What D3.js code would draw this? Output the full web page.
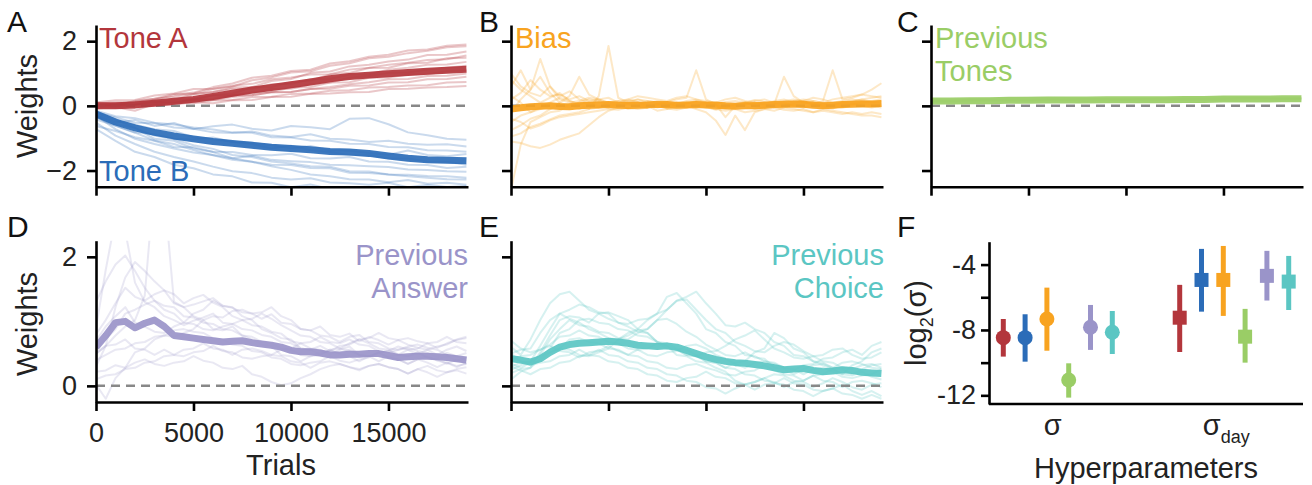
<!DOCTYPE html>
<html><head><meta charset="utf-8">
<script src="https://cdn.jsdelivr.net/npm/d3@7"></script>
<style>body{margin:0;background:#fff} text{font-family:"Liberation Sans",Arial,sans-serif}</style>
</head><body><svg id="c" width="1312" height="485"></svg>
<script>
// ---------------- DATA ----------------
const trialsCoarse = [0,1000,2000,3000,4000,5000,6000,7000,8000,9000,10000,11000,12000,13000,14000,15000,16000,17000,18000,19000];
const trialsFine = [0,500,1000,1500,2000,2500,3000,3500,4000,4500,5000,5500,6000,6500,7000,7500,8000,8500,9000,9500,10000,10500,11000,11500,12000,12500,13000,13500,14000,14500,15000,15500,16000,16500,17000,17500,18000,18500,19000];
const xTickValues = [0,5000,10000,15000];
const yTicksTop = [-2,0,2];
const yTicksBottom = [0,2];

const toneAMean = [0.0,0.0,0.03,0.08,0.14,0.2,0.29,0.39,0.49,0.57,0.65,0.74,0.84,0.91,0.95,0.99,1.03,1.07,1.1,1.13];
const toneASubjects = [
[0.02,0.06,0.12,0.19,0.33,0.41,0.58,0.69,0.87,0.93,1.08,1.12,1.31,1.38,1.52,1.58,1.71,1.74,1.86,1.9],
[0.05,0.0,0.16,0.22,0.37,0.38,0.52,0.6,0.79,0.88,1.03,1.07,1.24,1.32,1.47,1.52,1.63,1.7,1.81,1.84],
[-0.04,0.03,0.04,0.17,0.18,0.36,0.43,0.57,0.58,0.77,0.83,1.02,1.06,1.22,1.27,1.37,1.43,1.57,1.58,1.68],
[0.0,-0.06,0.02,0.08,0.17,0.19,0.33,0.38,0.57,0.58,0.73,0.78,0.97,1.02,1.17,1.18,1.32,1.33,1.47,1.49],
[0.06,0.11,0.13,0.22,0.28,0.37,0.43,0.52,0.53,0.67,0.68,0.82,0.83,0.97,0.98,1.12,1.18,1.27,1.28,1.36],
[0.0,0.02,0.04,0.12,0.09,0.22,0.23,0.32,0.38,0.52,0.53,0.67,0.72,0.87,0.92,1.02,1.03,1.12,1.18,1.24],
[0.1,0.04,0.12,0.13,0.22,0.23,0.32,0.33,0.42,0.43,0.57,0.58,0.72,0.73,0.87,0.88,0.97,0.98,1.07,1.09],
[-0.08,-0.04,-0.15,0.06,0.08,0.17,0.18,0.27,0.33,0.42,0.43,0.52,0.58,0.67,0.73,0.82,0.83,0.92,0.93,1.0],
[0.0,0.07,0.04,0.12,0.13,0.17,0.18,0.32,0.33,0.42,0.43,0.52,0.53,0.62,0.63,0.72,0.73,0.82,0.83,0.9],
[0.04,0.0,0.06,0.03,0.12,0.08,0.17,0.18,0.27,0.28,0.37,0.38,0.47,0.48,0.57,0.58,0.63,0.64,0.72,0.74],
[-0.05,0.02,-0.06,0.02,0.03,0.12,0.08,0.17,0.18,0.27,0.28,0.37,0.38,0.42,0.43,0.52,0.53,0.57,0.58,0.61],
[0.1,0.17,0.18,0.32,0.38,0.52,0.53,0.62,0.68,0.82,0.88,0.97,0.98,1.12,1.18,1.27,1.33,1.42,1.44,1.56]
];

const toneBMean = [-0.25,-0.5,-0.68,-0.82,-0.93,-1.02,-1.1,-1.16,-1.22,-1.28,-1.32,-1.36,-1.41,-1.43,-1.47,-1.55,-1.62,-1.67,-1.68,-1.7];
const toneBSubjects = [
[-0.3,-0.52,-0.44,-0.62,-0.53,-0.72,-0.63,-0.58,-0.71,-0.76,-0.62,-0.66,-0.72,-0.4,-0.38,-0.57,-0.82,-0.91,-1.02,-1.05],
[-0.2,-0.36,-0.52,-0.54,-0.67,-0.71,-0.82,-0.84,-0.79,-0.92,-0.96,-0.88,-1.02,-1.04,-1.12,-1.08,-1.17,-1.2,-1.19,-1.26],
[-0.42,-0.61,-0.82,-0.88,-1.02,-1.04,-0.98,-1.12,-1.14,-1.22,-1.31,-1.24,-1.37,-1.39,-1.46,-1.51,-1.38,-1.52,-1.56,-1.49],
[-0.3,-0.72,-1.02,-1.18,-1.32,-1.44,-1.52,-1.62,-1.54,-1.67,-1.71,-1.74,-1.82,-1.84,-1.87,-1.89,-1.97,-1.98,-2.02,-2.04],
[-0.52,-0.92,-1.18,-1.42,-1.58,-1.72,-1.88,-2.02,-2.08,-2.22,-2.28,-2.24,-2.37,-2.39,-2.44,-2.38,-2.52,-2.44,-2.51,-2.48],
[-0.2,-0.42,-0.68,-1.02,-1.08,-1.32,-1.43,-1.62,-1.73,-1.87,-1.98,-2.12,-2.18,-2.27,-2.28,-2.36,-2.29,-2.41,-2.38,-2.44],
[-0.62,-0.78,-0.97,-1.08,-1.27,-1.28,-1.42,-1.43,-1.52,-1.53,-1.48,-1.62,-1.63,-1.58,-1.72,-1.73,-1.82,-1.83,-1.92,-1.88],
[-0.25,-0.47,-0.58,-0.72,-0.78,-0.97,-1.03,-1.12,-1.18,-1.32,-1.23,-1.37,-1.43,-1.52,-1.53,-1.62,-1.63,-1.72,-1.73,-1.82],
[-0.3,-0.57,-0.68,-0.92,-1.03,-1.22,-1.33,-1.52,-1.58,-1.72,-1.78,-1.87,-1.88,-2.02,-2.03,-2.12,-2.18,-2.22,-2.27,-2.28],
[-0.15,-0.32,-0.38,-0.52,-0.58,-0.67,-0.73,-0.82,-0.83,-0.97,-0.98,-1.07,-1.08,-1.17,-1.18,-1.27,-1.28,-1.37,-1.38,-1.42],
[-0.72,-1.08,-1.42,-1.58,-1.82,-1.93,-2.12,-2.18,-2.37,-2.38,-2.52,-2.43,-2.57,-2.58,-2.62,-2.53,-2.62,-2.63,-2.58,-2.62],
[-0.35,-0.62,-0.83,-1.07,-1.18,-1.37,-1.53,-1.67,-1.73,-1.82,-1.83,-1.92,-1.93,-2.07,-2.08,-2.12,-2.13,-2.17,-2.18,-2.22]
];

const biasMean = [-0.1,-0.06,-0.03,-0.01,0.0,-0.02,-0.03,0.0,0.02,0.03,0.04,0.02,0.01,0.02,0.03,0.05,0.04,0.02,0.03,0.04,0.03,0.02,0.0,-0.01,0.0,0.0,0.02,0.04,0.05,0.06,0.05,0.02,0.0,0.02,0.04,0.05,0.06,0.06,0.07];
const biasSubjects = [
[-2.6,-1.2,-0.5,-0.35,-0.2,-0.15,0.05,-0.1,0.08,0.12,0.0,-0.05,0.06,0.12,-0.02,0.05,-0.08,0.02,0.1,0.04,-0.02,-0.12,0.02,0.06,0.12,-0.03,-0.06,0.04,0.1,0.0,0.06,0.12,-0.02,-0.08,0.02,0.05,0.1,0.04,0.0],
[-1.1,-1.15,-1.25,-1.3,-1.2,-1.05,-0.95,-0.85,-0.6,-0.35,-0.15,-0.05,0.05,-0.02,0.1,0.05,-0.05,0.02,0.08,0.1,0.0,-0.1,-0.05,0.02,0.08,0.04,-0.02,0.06,0.1,0.02,-0.04,0.04,0.08,0.0,-0.06,0.02,0.06,0.0,-0.05],
[-0.95,-0.85,-0.65,-0.55,-0.42,-0.3,-0.25,-0.2,-0.1,0.3,1.85,0.25,0.1,0.05,0.15,0.12,0.05,0.0,0.08,0.14,0.05,0.02,-0.05,0.05,0.1,0.18,0.12,0.05,0.0,0.06,0.1,0.15,0.08,0.02,0.1,0.15,0.2,0.12,0.1],
[0.6,1.1,0.5,1.45,0.6,0.3,0.45,0.2,0.1,0.15,0.05,0.1,0.2,0.12,0.05,-0.05,0.02,0.1,0.05,0.0,0.08,0.12,0.05,-0.02,0.03,0.1,0.05,-0.05,0.0,0.1,0.15,0.05,-0.05,0.02,0.08,0.12,0.2,0.25,0.3],
[0.2,0.4,0.8,0.5,0.3,0.35,0.2,0.3,0.15,0.2,0.25,0.1,0.15,0.2,0.1,0.05,0.12,0.2,0.25,1.1,0.2,0.05,0.12,0.15,0.1,0.05,0.12,0.08,0.15,0.2,0.12,0.05,0.15,1.1,0.2,0.25,0.35,0.5,0.7],
[-0.75,-0.6,-0.4,-0.3,-0.1,0.1,0.3,0.9,0.35,0.2,0.1,0.05,0.15,0.1,0.0,0.05,0.1,0.0,-0.05,0.05,0.1,0.0,-0.1,-0.05,0.05,0.1,0.0,0.05,0.9,0.3,0.1,0.05,0.0,0.05,0.1,0.05,0.15,0.1,0.05],
[0.3,0.1,-0.2,-0.1,0.0,0.05,-0.05,0.1,0.05,-0.05,0.0,0.05,-0.1,-0.05,0.0,-0.15,-0.1,-0.05,0.0,-0.1,-0.2,-0.45,-0.9,-0.3,-0.75,-0.2,-0.1,-0.15,-0.05,-0.1,-0.15,-0.2,-0.1,-0.15,-0.2,-0.25,-0.3,-0.3,-0.35],
[0.8,0.5,0.3,0.1,0.25,0.4,0.15,0.05,-0.1,-0.05,0.1,0.15,0.05,0.0,-0.05,0.05,0.1,0.05,0.15,0.2,0.1,0.05,-0.05,0.0,0.1,0.15,0.2,0.1,0.05,0.15,0.2,0.15,0.1,0.2,0.25,0.3,0.35,0.3,0.25],
[-0.4,-0.5,-0.7,-0.6,-0.45,-0.35,-0.3,-0.25,-0.2,-0.15,-0.1,-0.12,-0.05,-0.1,-0.05,0.0,-0.08,-0.12,-0.05,0.0,-0.05,-0.1,-0.15,-0.1,-0.2,-0.15,-0.1,-0.05,-0.12,-0.15,-0.1,-0.2,-0.15,-0.2,-0.25,-0.2,-0.25,-0.2,-0.25],
[1.0,0.6,0.4,0.3,0.6,0.2,0.1,0.15,0.25,0.2,0.1,0.15,0.2,0.3,0.25,0.2,0.15,0.25,0.3,0.2,0.15,0.1,0.2,0.25,0.15,0.1,0.05,0.15,0.2,0.1,0.15,0.25,0.2,0.1,0.15,0.2,0.15,0.1,0.15],
[-0.2,0.2,0.5,0.9,0.4,0.1,0.0,0.1,0.2,0.15,0.05,0.0,0.1,0.05,-0.05,0.0,0.05,0.1,0.0,-0.05,0.05,0.0,-0.05,0.05,0.0,-0.1,-0.05,0.0,0.05,0.0,-0.05,0.0,0.05,0.0,0.05,0.1,0.0,-0.05,0.0],
[-0.5,-0.3,-0.2,-0.05,0.1,0.25,0.15,0.05,0.1,0.0,-0.05,0.05,0.1,0.2,0.15,0.1,0.05,0.0,0.05,0.15,0.1,0.05,-0.35,0.0,0.05,0.1,0.05,0.0,-0.05,0.05,0.1,0.05,0.0,-0.05,0.0,0.05,0.1,0.15,0.2]
];

const prevTonesMean = [0.15,0.15,0.16,0.16,0.17,0.17,0.18,0.18,0.18,0.19,0.19,0.19,0.19,0.2,0.2,0.21,0.21,0.21,0.22,0.22];
const prevTonesSubjects = [
[0.18,0.19,0.21,0.23,0.24,0.25,0.25,0.24,0.23,0.22,0.23,0.23,0.24,0.25,0.26,0.27,0.26,0.25,0.25,0.24],
[0.12,0.12,0.13,0.14,0.14,0.15,0.16,0.16,0.15,0.16,0.17,0.16,0.17,0.18,0.17,0.18,0.19,0.19,0.2,0.2],
[0.14,0.15,0.17,0.18,0.19,0.2,0.21,0.2,0.2,0.19,0.2,0.21,0.22,0.22,0.21,0.22,0.23,0.22,0.21,0.22],
[0.16,0.16,0.17,0.17,0.18,0.18,0.19,0.2,0.21,0.21,0.2,0.2,0.2,0.21,0.22,0.23,0.24,0.24,0.23,0.23]
];

const prevAnswerMean = [0.6,0.78,0.98,1.0,0.9,0.97,1.02,0.92,0.78,0.76,0.74,0.72,0.7,0.68,0.69,0.7,0.67,0.65,0.63,0.6,0.55,0.53,0.53,0.51,0.48,0.48,0.49,0.49,0.5,0.5,0.47,0.44,0.45,0.46,0.46,0.45,0.44,0.42,0.4];
const prevAnswerSubjects = [
[0.9,1.8,2.6,2.4,1.6,1.3,1.22,1.08,1.02,0.94,1.01,1.06,1.12,0.98,0.96,0.88,0.86,0.79,0.76,0.68,0.66,0.58,0.56,0.62,0.54,0.51,0.56,0.48,0.46,0.52,0.54,0.49,0.46,0.51,0.44,0.41,0.46,0.39,0.44],
[0.5,0.62,0.78,0.92,1.02,1.4,3.2,3.0,1.3,1.22,1.26,1.31,1.36,1.24,1.21,1.14,1.12,1.04,1.11,0.98,0.96,0.88,0.86,0.92,0.79,0.76,0.81,0.69,0.76,0.71,0.64,0.71,0.74,0.69,0.66,0.59,0.66,0.71,0.74],
[0.3,0.62,1.22,1.68,1.92,1.78,1.62,1.48,1.42,1.28,1.36,1.41,1.29,1.22,1.08,1.02,0.94,0.92,0.84,0.81,0.69,0.66,0.58,0.56,0.49,0.56,0.61,0.48,0.46,0.51,0.44,0.41,0.34,0.41,0.36,0.29,0.36,0.31,0.34],
[0.02,-0.2,0.12,0.28,0.52,0.58,0.72,0.78,0.76,0.82,0.88,1.02,1.08,1.06,1.16,1.18,1.12,1.14,1.22,1.08,1.02,0.88,0.86,0.78,0.76,0.68,0.76,0.79,0.68,0.66,0.58,0.56,0.61,0.64,0.59,0.56,0.48,0.46,0.51],
[0.8,1.02,1.28,1.52,1.38,1.32,1.42,1.48,1.28,1.22,1.08,1.02,0.88,0.86,0.92,0.78,0.72,0.64,0.62,0.48,0.46,0.38,0.46,0.48,0.56,0.49,0.46,0.38,0.46,0.51,0.54,0.61,0.56,0.49,0.56,0.61,0.64,0.72,0.76],
[0.22,0.24,0.32,0.28,0.36,0.41,0.34,0.31,0.36,0.38,0.46,0.39,0.36,0.28,0.26,0.31,0.18,0.14,0.06,0.01,0.04,0.12,0.18,0.26,0.31,0.34,0.29,0.26,0.31,0.34,0.29,0.26,0.19,0.26,0.31,0.24,0.21,0.26,0.29],
[0.6,0.72,0.88,1.12,1.18,1.26,1.32,1.18,1.12,0.98,0.96,0.88,0.86,0.92,0.96,1.02,1.04,1.12,1.04,0.94,0.86,0.78,0.76,0.68,0.66,0.58,0.66,0.72,0.74,0.82,0.74,0.71,0.64,0.59,0.56,0.48,0.56,0.61,0.54],
[0.4,0.48,0.56,0.58,0.66,0.68,0.76,0.78,0.86,0.88,0.84,0.82,0.74,0.72,0.64,0.62,0.54,0.52,0.44,0.42,0.34,0.32,0.36,0.38,0.46,0.39,0.36,0.41,0.44,0.52,0.44,0.41,0.34,0.41,0.46,0.39,0.36,0.29,0.36],
[1.3,1.62,1.88,2.02,1.78,1.52,1.32,1.24,1.22,1.08,1.06,0.98,0.96,0.88,0.86,0.78,0.76,0.68,0.66,0.58,0.56,0.48,0.46,0.52,0.54,0.62,0.64,0.72,0.66,0.58,0.56,0.48,0.46,0.52,0.44,0.41,0.34,0.41,0.34],
[0.5,0.62,0.64,0.72,0.58,0.56,0.48,0.56,0.48,0.46,0.52,0.54,0.62,0.54,0.52,0.44,0.42,0.46,0.48,0.56,0.58,0.66,0.68,0.76,0.68,0.66,0.72,0.64,0.62,0.54,0.51,0.56,0.59,0.54,0.51,0.44,0.51,0.46,0.39],
[0.1,0.16,0.18,0.26,0.28,0.36,0.38,0.46,0.48,0.56,0.58,0.66,0.58,0.56,0.48,0.56,0.58,0.54,0.48,0.46,0.38,0.36,0.28,0.36,0.38,0.34,0.29,0.24,0.31,0.34,0.29,0.26,0.19,0.26,0.21,0.14,0.21,0.24,0.19],
[0.7,0.92,1.08,1.22,0.98,0.92,0.84,0.82,0.92,0.98,1.12,1.18,1.32,1.24,1.22,1.08,1.02,0.88,0.82,0.74,0.72,0.58,0.56,0.48,0.56,0.58,0.54,0.48,0.46,0.38,0.46,0.48,0.56,0.58,0.66,0.68,0.76,0.68,0.66]
];

const prevChoiceMean = [0.42,0.4,0.37,0.42,0.52,0.6,0.64,0.66,0.67,0.68,0.69,0.68,0.66,0.63,0.62,0.61,0.62,0.6,0.55,0.5,0.45,0.41,0.38,0.36,0.35,0.33,0.31,0.28,0.25,0.26,0.27,0.24,0.22,0.23,0.25,0.24,0.21,0.2,0.19];
const prevChoiceSubjects = [
[0.6,0.48,0.72,1.02,1.28,1.42,1.46,1.32,1.18,1.12,1.04,0.98,0.92,0.84,0.82,0.68,0.62,0.48,0.46,0.38,0.36,0.28,0.22,0.08,0.02,0.06,0.12,0.18,0.16,0.08,0.06,-0.02,0.04,0.12,0.06,-0.02,-0.06,0.02,0.04],
[0.3,0.36,0.38,0.62,0.88,1.12,1.18,1.26,1.22,1.14,1.12,0.98,0.96,1.02,1.04,1.12,1.38,1.44,1.28,1.12,0.88,0.82,0.68,0.62,0.48,0.46,0.38,0.36,0.28,0.26,0.18,0.26,0.28,0.22,0.14,0.12,0.16,0.18,0.26],
[0.5,0.38,0.36,0.38,0.52,0.58,0.56,0.48,0.46,0.52,0.58,0.72,0.78,0.86,0.88,1.02,1.18,1.32,1.38,1.46,1.28,1.12,0.94,0.92,0.98,0.88,0.82,0.68,0.62,0.48,0.46,0.38,0.36,0.28,0.36,0.38,0.34,0.28,0.26],
[0.2,0.26,0.28,0.52,0.78,1.02,1.08,1.06,0.98,1.12,1.14,1.08,1.02,0.88,0.82,0.68,0.62,0.56,0.48,0.46,0.38,0.36,0.28,0.36,0.38,0.52,0.58,0.82,0.74,0.58,0.52,0.38,0.32,0.26,0.18,0.32,0.38,0.52,0.58],
[0.45,0.38,0.32,0.36,0.38,0.46,0.48,0.56,0.48,0.46,0.38,0.36,0.28,0.26,0.18,0.16,0.08,0.06,0.12,0.14,0.22,0.14,0.12,0.04,0.02,-0.06,0.02,0.04,0.12,0.04,0.02,-0.06,-0.08,-0.04,0.02,-0.08,-0.14,-0.08,-0.16],
[0.35,0.28,0.36,0.48,0.72,0.88,1.02,0.94,0.92,0.84,0.82,0.74,0.72,0.82,0.88,1.02,1.04,0.96,0.84,0.76,0.64,0.56,0.48,0.46,0.52,0.44,0.42,0.28,0.26,0.18,0.26,0.32,0.34,0.28,0.26,0.18,0.26,0.32,0.34],
[0.4,0.46,0.48,0.56,0.62,0.54,0.52,0.44,0.52,0.54,0.62,0.54,0.48,0.56,0.58,0.66,0.58,0.56,0.48,0.46,0.52,0.54,0.62,0.72,0.78,0.86,0.72,0.58,0.52,0.44,0.42,0.46,0.48,0.56,0.58,0.48,0.42,0.44,0.52],
[0.1,0.22,0.28,0.42,0.58,0.82,0.88,1.02,1.04,0.98,0.96,0.88,0.86,0.78,0.76,0.68,0.66,0.58,0.56,0.48,0.38,0.36,0.28,0.26,0.18,0.16,0.08,0.06,-0.02,0.06,0.08,0.16,0.08,0.06,-0.02,0.06,0.08,0.04,-0.02],
[0.7,0.58,0.52,0.56,0.64,0.76,0.78,0.86,0.78,0.76,0.68,0.66,0.58,0.56,0.48,0.46,0.52,0.54,0.62,0.64,0.58,0.48,0.42,0.34,0.28,0.36,0.38,0.34,0.28,0.24,0.32,0.34,0.42,0.44,0.52,0.56,0.48,0.62,0.68],
[0.3,0.24,0.18,0.26,0.28,0.36,0.38,0.46,0.48,0.56,0.48,0.46,0.38,0.36,0.28,0.26,0.18,0.16,0.08,0.06,-0.02,-0.04,-0.12,-0.04,0.02,0.06,0.12,0.04,0.02,-0.06,-0.08,-0.16,-0.08,-0.04,-0.12,-0.14,-0.2,-0.14,-0.2],
[0.5,0.56,0.58,0.82,1.02,1.12,1.04,0.98,0.88,0.82,0.74,0.72,0.82,0.88,1.02,1.12,1.18,1.32,1.34,1.18,1.02,0.88,0.82,0.68,0.62,0.54,0.52,0.62,0.68,0.64,0.54,0.46,0.38,0.36,0.28,0.26,0.32,0.34,0.28],
[0.25,0.32,0.38,0.46,0.52,0.58,0.72,0.74,0.68,0.66,0.58,0.56,0.48,0.46,0.38,0.36,0.28,0.26,0.32,0.34,0.28,0.24,0.18,0.16,0.22,0.24,0.32,0.24,0.18,0.16,0.08,0.16,0.18,0.26,0.18,0.16,0.22,0.14,0.1]
];

const hyperGroups = ["σ", "σday"];
const hyperSeries = ["Tone A","Tone B","Bias","Previous Tones","Previous Answer","Previous Choice"];
const sigmaMean = [-8.47,-8.47,-7.33,-11.06,-7.83,-8.14];
const sigmaLow = [-9.63,-9.94,-9.27,-12.14,-9.22,-9.47];
const sigmaHigh = [-7.33,-7.04,-5.41,-10.04,-6.47,-6.84];
const sigmaDayMean = [-7.25,-4.94,-4.94,-8.41,-4.69,-5.04];
const sigmaDayLow = [-9.35,-6.88,-7.14,-10.0,-6.2,-6.78];
const sigmaDayHigh = [-5.24,-3.04,-2.86,-6.71,-3.16,-3.47];
const hyperYTicks = [-12,-10,-8,-6,-4];
const hyperYLabels = [-12,-8,-4];

// ---------------- STYLE ----------------
const colors = {
  toneA: "#b3363c", toneB: "#2b6cb8", bias: "#f8a320",
  prevTones: "#9acd66", prevAnswer: "#9a94c9", prevChoice: "#5bc6c3"
};
const seriesColors = [colors.toneA, colors.toneB, colors.bias, colors.prevTones, colors.prevAnswer, colors.prevChoice];
const FS = 29;      // labels
const TFS = 27;     // tick labels
const svg = d3.select("#c");
const xMax = 19080;

function styleAxis(g, fs) {
  g.selectAll(".domain").attr("stroke", "#000").attr("stroke-width", 2.6);
  g.selectAll(".tick line").attr("stroke", "#000").attr("stroke-width", 2.6);
  g.selectAll(".tick text").attr("fill", "#222").style("font-size", fs + "px")
    .style("font-family", '"Liberation Sans", Arial, sans-serif');
}

let clipId = 0;
function weightPanel(cfg) {
  const g = svg.append("g");
  const x = d3.scaleLinear().domain([0, xMax]).range([cfg.x0, cfg.x0 + cfg.w]);
  const y = d3.scaleLinear().domain(cfg.yDomain).range([cfg.y0 + cfg.h, cfg.y0]);
  const id = "clip" + (clipId++);
  svg.append("clipPath").attr("id", id).append("rect")
    .attr("x", cfg.x0).attr("y", cfg.y0).attr("width", cfg.w).attr("height", cfg.h);
  const plot = g.append("g").attr("clip-path", `url(#${id})`);

  cfg.series.forEach(s => {
    const line = d3.line().x((d, i) => x(s.grid[i])).y(d => y(d));
    plot.selectAll(null).data(s.subjects).enter().append("path")
      .attr("d", line).attr("fill", "none").attr("stroke", s.color)
      .attr("stroke-width", 2).attr("stroke-opacity", s.thinOpacity)
      .attr("stroke-linejoin", "round");
  });
  plot.append("line").attr("x1", x(0)).attr("x2", x(xMax)).attr("y1", y(0)).attr("y2", y(0))
    .attr("stroke", "#888").attr("stroke-width", 2.5).attr("stroke-dasharray", "9,6");
  cfg.series.forEach(s => {
    const line = d3.line().x((d, i) => x(s.meanGrid[i])).y(d => y(d));
    plot.append("path").datum(s.mean).attr("d", line).attr("fill", "none")
      .attr("stroke", s.color).attr("stroke-width", 7).attr("stroke-opacity", 0.92)
      .attr("stroke-linejoin", "round").attr("stroke-linecap", "butt");
  });

  const ax = g.append("g").attr("transform", `translate(${cfg.x0},0)`)
    .call(d3.axisLeft(y).tickValues(cfg.yTicks).tickSize(9).tickSizeOuter(0).tickPadding(10)
      .tickFormat(cfg.showY ? d3.format("d") : () => ""));
  styleAxis(ax, TFS);
  const bx = g.append("g").attr("transform", `translate(0,${cfg.y0 + cfg.h})`)
    .call(d3.axisBottom(x).tickValues(xTickValues).tickSize(9).tickSizeOuter(0).tickPadding(12)
      .tickFormat(cfg.showX ? d3.format("d") : () => ""));
  styleAxis(bx, TFS);

  cfg.labels.forEach(l => {
    g.append("text").attr("x", l.x).attr("y", l.y).attr("fill", l.color)
      .attr("text-anchor", l.anchor || "start").style("font-size", FS + "px").text(l.text);
  });
  return {x, y};
}

const colX = [96, 511, 931], W = 372;
const topY = 25, topH = 161.7, botY = 240.7, botH = 161.3;

weightPanel({x0: colX[0], y0: topY, w: W, h: topH, yDomain: [-2.5, 2.5], yTicks: yTicksTop, showY: true, showX: false,
  series: [
    {color: colors.toneA, grid: trialsCoarse, subjects: toneASubjects, meanGrid: trialsCoarse, mean: toneAMean, thinOpacity: 0.28},
    {color: colors.toneB, grid: trialsCoarse, subjects: toneBSubjects, meanGrid: trialsCoarse, mean: toneBMean, thinOpacity: 0.25}
  ],
  labels: [{x: 99, y: 48, color: colors.toneA, text: "Tone A"}, {x: 99, y: 181, color: colors.toneB, text: "Tone B"}]});

weightPanel({x0: colX[1], y0: topY, w: W, h: topH, yDomain: [-2.5, 2.5], yTicks: yTicksTop, showY: false, showX: false,
  series: [{color: colors.bias, grid: trialsFine, subjects: biasSubjects, meanGrid: trialsFine, mean: biasMean, thinOpacity: 0.25}],
  labels: [{x: 515, y: 48, color: colors.bias, text: "Bias"}]});

weightPanel({x0: colX[2], y0: topY, w: W, h: topH, yDomain: [-2.5, 2.5], yTicks: yTicksTop, showY: false, showX: false,
  series: [{color: colors.prevTones, grid: trialsCoarse, subjects: prevTonesSubjects, meanGrid: trialsCoarse, mean: prevTonesMean, thinOpacity: 0.25}],
  labels: [{x: 935, y: 48, color: colors.prevTones, text: "Previous"}, {x: 935, y: 81, color: colors.prevTones, text: "Tones"}]});

weightPanel({x0: colX[0], y0: botY, w: W, h: botH, yDomain: [-0.25, 2.25], yTicks: yTicksBottom, showY: true, showX: true,
  series: [{color: colors.prevAnswer, grid: trialsFine, subjects: prevAnswerSubjects, meanGrid: trialsFine, mean: prevAnswerMean, thinOpacity: 0.22}],
  labels: [{x: 468, y: 265, color: colors.prevAnswer, text: "Previous", anchor: "end"}, {x: 468, y: 298, color: colors.prevAnswer, text: "Answer", anchor: "end"}]});

weightPanel({x0: colX[1], y0: botY, w: W, h: botH, yDomain: [-0.25, 2.25], yTicks: yTicksBottom, showY: false, showX: false,
  series: [{color: colors.prevChoice, grid: trialsFine, subjects: prevChoiceSubjects, meanGrid: trialsFine, mean: prevChoiceMean, thinOpacity: 0.25}],
  labels: [{x: 884, y: 265, color: colors.prevChoice, text: "Previous", anchor: "end"}, {x: 884, y: 298, color: colors.prevChoice, text: "Choice", anchor: "end"}]});

// y labels, x label, panel letters
function txt(x, y, s, opt = {}) {
  const t = svg.append("text").attr("x", x).attr("y", y).attr("fill", opt.fill || "#222")
    .attr("text-anchor", opt.anchor || "start").style("font-size", (opt.fs || FS) + "px").text(s);
  if (opt.rot) t.attr("transform", `rotate(-90,${x},${y})`);
  return t;
}
txt(37, 106, "Weights", {anchor: "middle", rot: true});
txt(37, 324, "Weights", {anchor: "middle", rot: true});
txt(281, 475, "Trials", {anchor: "middle"});
[["A", 7, 32], ["B", 479, 32], ["C", 897, 32], ["D", 7, 237], ["E", 479, 237], ["F", 897, 237]]
  .forEach(d => txt(d[1], d[2], d[0], {fs: 30, fill: "#111"}));

// ---------------- Panel F ----------------
const fx0 = 989, fx1 = 1303, fy0 = 241.7, fy1 = 404;
const gF = svg.append("g");
const xF = d3.scalePoint().domain(hyperGroups).range([fx0, fx1]).padding(0.39);
const yF = d3.scaleLinear().domain([-12.53, -2.6]).range([fy1, fy0]);
const off = d3.scaleLinear().domain([0, hyperSeries.length - 1]).range([-54.5, 54.5]);

const groupsData = [
  {g: "σ", mean: sigmaMean, lo: sigmaLow, hi: sigmaHigh, shape: "circle"},
  {g: "σday", mean: sigmaDayMean, lo: sigmaDayLow, hi: sigmaDayHigh, shape: "square"}
];
groupsData.forEach(gd => {
  hyperSeries.forEach((s, i) => {
    const cx = xF(gd.g) + off(i);
    gF.append("line").attr("x1", cx).attr("x2", cx).attr("y1", yF(gd.lo[i])).attr("y2", yF(gd.hi[i]))
      .attr("stroke", seriesColors[i]).attr("stroke-width", 5);
    if (gd.shape === "circle") {
      gF.append("circle").attr("cx", cx).attr("cy", yF(gd.mean[i])).attr("r", 7.5).attr("fill", seriesColors[i]);
    } else {
      gF.append("rect").attr("x", cx - 7).attr("y", yF(gd.mean[i]) - 7).attr("width", 14).attr("height", 14)
        .attr("fill", seriesColors[i]);
    }
  });
});
const ayF = gF.append("g").attr("transform", `translate(${fx0},0)`)
  .call(d3.axisLeft(yF).tickValues(hyperYTicks).tickSize(8).tickSizeOuter(0).tickPadding(5)
    .tickFormat(d => hyperYLabels.includes(d) ? String(d) : ""));
styleAxis(ayF, TFS);
const axF = gF.append("g").attr("transform", `translate(0,${fy1})`)
  .call(d3.axisBottom(xF).tickSize(0).tickSizeOuter(0).tickFormat(() => ""));
styleAxis(axF, TFS);
axF.selectAll(".domain").attr("d", `M${fx0},0H${fx1}`);

txt(xF("σ") - 5, 435, "σ", {anchor: "middle"});
const sd = svg.append("text").attr("x", xF("σday") - 8).attr("y", 435).attr("fill", "#222")
  .attr("text-anchor", "middle").style("font-size", FS + "px");
sd.append("tspan").text("σ");
sd.append("tspan").attr("dy", 8).style("font-size", "18px").text("day");
txt(1146, 478, "Hyperparameters", {anchor: "middle"});
const ly = svg.append("text").attr("x", 926).attr("y", 323).attr("fill", "#222")
  .attr("text-anchor", "middle").style("font-size", FS + "px")
  .attr("transform", "rotate(-90,926,323)");
ly.append("tspan").text("log");
ly.append("tspan").attr("dy", 7).style("font-size", "18px").text("2");
ly.append("tspan").attr("dy", -7).text("(σ)");
</script></body></html>
